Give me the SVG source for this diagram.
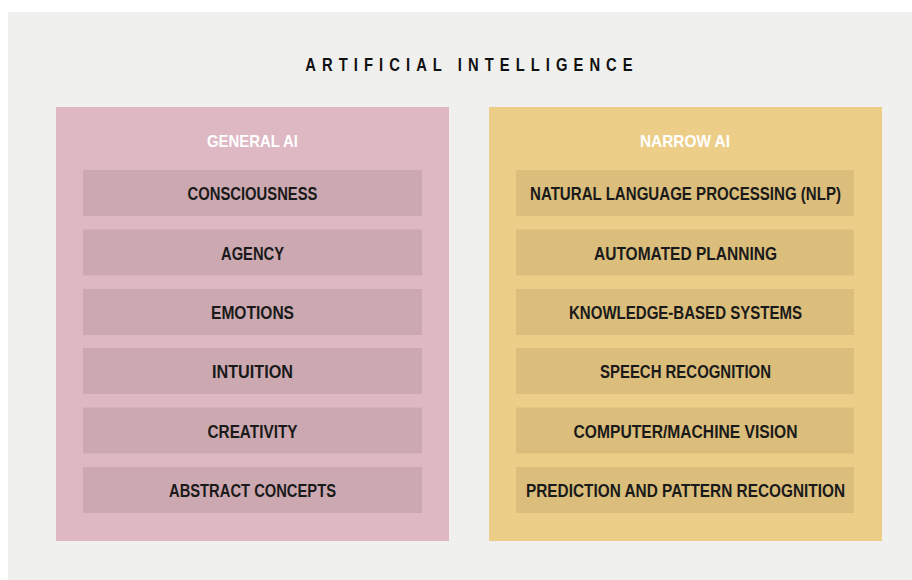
<svg xmlns="http://www.w3.org/2000/svg" width="912" height="580" viewBox="0 0 912 580">
<style>
  text { font-family: "Liberation Sans", Arial, sans-serif; font-weight: bold; text-anchor: middle; }
  .title { font-size: 18px; fill: #111111; letter-spacing: 7.4px; }
  .head { font-size: 17px; fill: #ffffff; }
  .item { font-size: 17.5px; fill: #1a1a1a; }
  .gpanel { fill: #deb8c3; }
  .gitem { fill: #cca9b1; }
  .npanel { fill: #edce88; }
  .nitem { fill: #dbbe7b; }
</style>
<rect x="0" y="0" width="912" height="580" fill="#ffffff"/>
<rect x="8" y="12" width="904" height="568" fill="#f0f0ee"/>
<text id="title" class="title" transform="translate(469,71) scale(0.82,1)" x="3.7" y="0">ARTIFICIAL INTELLIGENCE</text>

<g id="general-ai">
  <rect class="gpanel" x="56" y="107" width="393" height="434"/>
  <text class="head" x="252.5" y="147" textLength="91" lengthAdjust="spacingAndGlyphs">GENERAL AI</text>
</g>
<g id="consciousness"><rect class="gitem" x="83" y="170" width="339" height="46"/><text class="item" x="252.5" y="200" textLength="130" lengthAdjust="spacingAndGlyphs">CONSCIOUSNESS</text></g>
<g id="agency"><rect class="gitem" x="83" y="229.5" width="339" height="46"/><text class="item" x="252.5" y="259.5" textLength="63" lengthAdjust="spacingAndGlyphs">AGENCY</text></g>
<g id="emotions"><rect class="gitem" x="83" y="289" width="339" height="46"/><text class="item" x="252.5" y="319" textLength="83" lengthAdjust="spacingAndGlyphs">EMOTIONS</text></g>
<g id="intuition"><rect class="gitem" x="83" y="348" width="339" height="46"/><text class="item" x="252.5" y="378" textLength="81" lengthAdjust="spacingAndGlyphs">INTUITION</text></g>
<g id="creativity"><rect class="gitem" x="83" y="407.5" width="339" height="46"/><text class="item" x="252.5" y="437.5" textLength="90" lengthAdjust="spacingAndGlyphs">CREATIVITY</text></g>
<g id="abstract-concepts"><rect class="gitem" x="83" y="467" width="339" height="46"/><text class="item" x="252.5" y="497" textLength="167" lengthAdjust="spacingAndGlyphs">ABSTRACT CONCEPTS</text></g>

<g id="narrow-ai">
  <rect class="npanel" x="489" y="107" width="393" height="434"/>
  <text class="head" x="685" y="147" textLength="90" lengthAdjust="spacingAndGlyphs">NARROW AI</text>
</g>
<g id="nlp"><rect class="nitem" x="516" y="170" width="338" height="46"/><text class="item" x="685.5" y="200" textLength="311" lengthAdjust="spacingAndGlyphs">NATURAL LANGUAGE PROCESSING (NLP)</text></g>
<g id="automated-planning"><rect class="nitem" x="516" y="229.5" width="338" height="46"/><text class="item" x="685.5" y="259.5" textLength="183" lengthAdjust="spacingAndGlyphs">AUTOMATED PLANNING</text></g>
<g id="knowledge-based-systems"><rect class="nitem" x="516" y="289" width="338" height="46"/><text class="item" x="685.5" y="319" textLength="233" lengthAdjust="spacingAndGlyphs">KNOWLEDGE-BASED SYSTEMS</text></g>
<g id="speech-recognition"><rect class="nitem" x="516" y="348" width="338" height="46"/><text class="item" x="685.5" y="378" textLength="171" lengthAdjust="spacingAndGlyphs">SPEECH RECOGNITION</text></g>
<g id="computer-vision"><rect class="nitem" x="516" y="407.5" width="338" height="46"/><text class="item" x="685.5" y="437.5" textLength="224" lengthAdjust="spacingAndGlyphs">COMPUTER/MACHINE VISION</text></g>
<g id="prediction"><rect class="nitem" x="516" y="467" width="338" height="46"/><text class="item" x="685.5" y="497" textLength="319" lengthAdjust="spacingAndGlyphs">PREDICTION AND PATTERN RECOGNITION</text></g>
</svg>
